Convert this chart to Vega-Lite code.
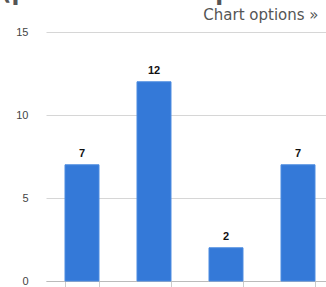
{
  "$schema": "https://vega.github.io/schema/vega-lite/v6.json",
  "autosize": "none",
  "width": 288,
  "height": 249,
  "padding": {"left": 46, "top": 32, "right": 0, "bottom": 8},
  "background": "white",
  "title": {
    "text": "(plusieurs choix possibles)",
    "anchor": "start",
    "frame": "group",
    "font": "DejaVu Sans",
    "fontSize": 23,
    "fontWeight": "bold",
    "color": "#555555",
    "baseline": "alphabetic",
    "offset": 0,
    "dx": -45,
    "dy": 16
  },
  "data": {
    "values": [
      {"choix": "Choix 1", "n": 7},
      {"choix": "Choix 2", "n": 12},
      {"choix": "Choix 3", "n": 2},
      {"choix": "Choix 4", "n": 7}
    ]
  },
  "config": {"view": {"stroke": null}},
  "encoding": {
    "x": {
      "field": "choix",
      "type": "nominal",
      "sort": null,
      "scale": {"paddingInner": 0.528, "paddingOuter": 0.264}
    },
    "y": {
      "field": "n",
      "type": "quantitative",
      "scale": {"domain": [0, 15], "nice": false}
    }
  },
  "layer": [
    {
      "mark": {"type": "bar", "color": "#3479d8", "stroke": "#4a8ae0", "strokeWidth": 1},
      "encoding": {
        "x": {
          "field": "choix",
          "type": "nominal",
          "sort": null,
          "axis": {
            "orient": "bottom",
            "title": null,
            "labels": false,
            "domainColor": "#bbbbbb",
            "tickColor": "#cccccc",
            "tickBand": "extent",
            "tickSize": 8
          }
        },
        "y": {
          "field": "n",
          "type": "quantitative",
          "axis": {
            "title": null,
            "values": [0, 5, 10, 15],
            "domain": false,
            "ticks": false,
            "labelPadding": 18,
            "labelFont": "Liberation Sans",
            "labelFontSize": 11,
            "labelColor": "#444444",
            "gridColor": "#d6d6d6"
          }
        }
      }
    },
    {
      "mark": {
        "type": "text",
        "dy": -6,
        "baseline": "bottom",
        "font": "Liberation Sans",
        "fontSize": 11,
        "fontWeight": "bold",
        "color": "#111111"
      },
      "encoding": {
        "x": {
          "field": "choix",
          "type": "nominal",
          "sort": null,
          "axis": {
            "orient": "top",
            "title": "Chart options »",
            "labels": false,
            "ticks": false,
            "domain": false,
            "titleFont": "DejaVu Sans",
            "titleFontSize": 15,
            "titleFontWeight": "normal",
            "titleColor": "#555555",
            "titleAnchor": "end",
            "titleAlign": "right",
            "titleBaseline": "alphabetic",
            "titleX": 272,
            "titleY": -13
          }
        },
        "text": {"field": "n", "type": "quantitative"}
      }
    }
  ],
  "resolve": {"axis": {"x": "independent"}}
}
